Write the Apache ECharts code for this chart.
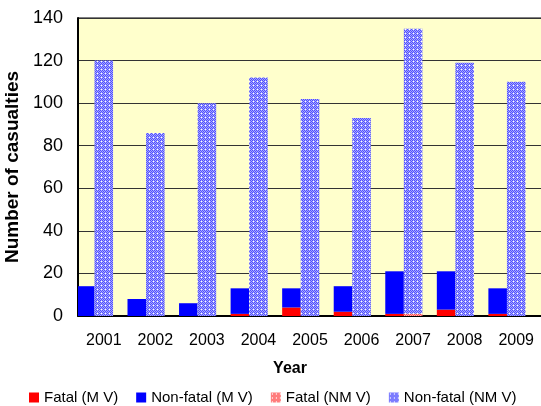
<!DOCTYPE html>
<html>
<head>
<meta charset="utf-8">
<script src="https://cdn.jsdelivr.net/npm/echarts@6/dist/echarts.min.js"></script>
<style>
html,body{margin:0;padding:0;background:#fff;}
#c{width:541px;height:406px;}
</style>
</head>
<body>
<div id="c"></div>
<script>
const years = ['2001','2002','2003','2004','2005','2006','2007','2008','2009'];
const fatalMV = [0, 0, 0, 1, 4, 2, 1, 3, 1];
const nonFatalMV = [14, 8, 6, 12, 9, 12, 20, 18, 12];
const fatalNMV = [0, 0, 0, 0, 0, 0, 1, 0, 0];
const nonFatalNMV = [120, 86, 100, 112, 102, 93, 134, 119, 110];
const yTicks = {min: 0, max: 140, interval: 20};
const seriesNames = ['Fatal (M V)', 'Non-fatal (M V)', 'Fatal (NM V)', 'Non-fatal (NM V)'];

function makePattern(c1, c2, dot) {
  const cv = document.createElement('canvas');
  cv.width = 4; cv.height = 4;
  const ctx = cv.getContext('2d');
  for (let y = 0; y < 4; y++) {
    for (let x = 0; x < 4; x++) {
      ctx.fillStyle = ((x + y) % 2 === 0) ? c1 : c2;
      ctx.fillRect(x, y, 1, 1);
    }
  }
  ctx.fillStyle = dot;
  ctx.fillRect(1, 1, 1, 1);
  return {image: cv, repeat: 'repeat'};
}
const bluePat = makePattern('#5050ff', '#a8a8ff', '#ffffff');
const pinkPat = makePattern('#ff4848', '#ffb0b0', '#ffffff');

const chart = echarts.init(document.getElementById('c'), null, {renderer: 'canvas'});
const barW = '36%';
const font = 'Liberation Sans, Arial';
chart.setOption({
  animation: false,
  backgroundColor: '#ffffff',
  grid: {
    left: 78, right: -1, top: 18, bottom: 90,
    show: true, backgroundColor: '#FFFFCC', borderColor: '#000', borderWidth: 1,
    containLabel: false,
    outerBoundsMode: 'none'
  },
  legend: {
    data: seriesNames,
    left: 24, top: 385,
    itemWidth: 10, itemHeight: 10, itemGap: 18,
    textStyle: {fontFamily: font, fontSize: 15, color: '#000'},
    icon: 'rect'
  },
  xAxis: {
    type: 'category',
    data: years,
    name: 'Year',
    nameLocation: 'middle',
    nameGap: 45,
    nameTextStyle: {fontFamily: font, fontWeight: 'bold', fontSize: 16, color: '#000', padding: [0, 40, 0, 0]},
    axisLine: {show: true, lineStyle: {color: '#000', width: 2}},
    axisTick: {show: false},
    axisLabel: {fontFamily: font, fontSize: 16, color: '#000', margin: 17},
    splitLine: {show: false}
  },
  yAxis: {
    type: 'value',
    min: yTicks.min, max: yTicks.max, interval: yTicks.interval,
    name: 'Number of casualties',
    nameLocation: 'middle',
    nameGap: 54,
    nameTextStyle: {fontFamily: font, fontWeight: 'bold', fontSize: 19, color: '#000'},
    axisLine: {show: true, lineStyle: {color: '#000', width: 2}},
    axisTick: {show: false},
    axisLabel: {fontFamily: font, fontSize: 18, color: '#000', margin: 15},
    splitLine: {show: true, lineStyle: {color: '#333', width: 1}}
  },
  series: [
    {name: seriesNames[0], type: 'bar', stack: 'MV', data: fatalMV, barWidth: barW, barGap: '0%',
     itemStyle: {color: '#ff0000'}},
    {name: seriesNames[1], type: 'bar', stack: 'MV', data: nonFatalMV, barWidth: barW, barGap: '0%',
     itemStyle: {color: '#0000ff'}},
    {name: seriesNames[2], type: 'bar', stack: 'NMV', data: fatalNMV, barWidth: barW, barGap: '0%',
     itemStyle: {color: pinkPat}},
    {name: seriesNames[3], type: 'bar', stack: 'NMV', data: nonFatalNMV, barWidth: barW, barGap: '0%',
     itemStyle: {color: bluePat}},
    {name: 'spacer', type: 'bar', stack: 'spacer', data: years.map(() => '-'), barWidth: barW, barGap: '0%',
     itemStyle: {color: 'transparent'}, silent: true}
  ]
});
</script>
</body>
</html>
